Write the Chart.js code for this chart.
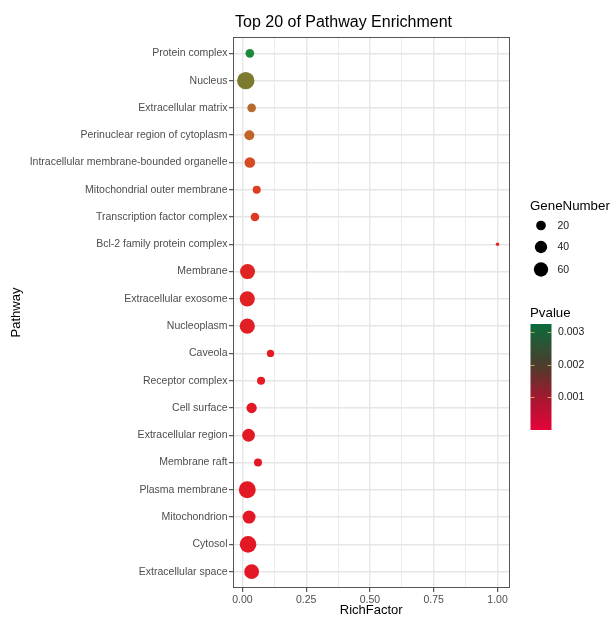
<!DOCTYPE html>
<html>
<head>
<meta charset="utf-8">
<script src="https://cdn.jsdelivr.net/npm/chart.js@4.4.1/dist/chart.umd.min.js"></script>
<style>
  html, body { margin: 0; padding: 0; background: #ffffff; }
  #wrap { width: 611px; height: 619px; position: relative; }
</style>
</head>
<body>
<div id="wrap"><canvas id="c" width="611" height="619"></canvas></div>
<script>
// Enriched cellular-component terms, listed top to bottom
const pathways = [
  'Protein complex',
  'Nucleus',
  'Extracellular matrix',
  'Perinuclear region of cytoplasm',
  'Intracellular membrane-bounded organelle',
  'Mitochondrial outer membrane',
  'Transcription factor complex',
  'Bcl-2 family protein complex',
  'Membrane',
  'Extracellular exosome',
  'Nucleoplasm',
  'Caveola',
  'Receptor complex',
  'Cell surface',
  'Extracellular region',
  'Membrane raft',
  'Plasma membrane',
  'Mitochondrion',
  'Cytosol',
  'Extracellular space'
];
const richFactor = [0.029, 0.013, 0.036, 0.027, 0.029, 0.056, 0.049, 1.0, 0.020, 0.019,
                    0.019, 0.110, 0.073, 0.036, 0.024, 0.061, 0.019, 0.026, 0.022, 0.036];
const geneNumber = [14, 98, 14, 22, 26, 11, 14, 1, 67, 69,
                    69, 8, 11, 24, 44, 11, 92, 46, 87, 65];
const pValue = [0.00324, 0.0022, 0.0015, 0.0013, 0.0008, 0.0006, 0.0005, 0.0003, 0.00018, 0.00012,
                0.00009, 0.00006, 0.00004, 0.00002, 0.00001, 0.000005, 0.000002, 0.0000008, 0.0000002, 0.00000001];

const xTicks = [0, 0.25, 0.5, 0.75, 1.0];
const sizeBreaks = [20, 40, 60];
const pBreaks = [0.001, 0.002, 0.003];

const FONT = "'Liberation Sans', Arial, Helvetica, sans-serif";

// point radius grows with the square root of the gene count
function radiusOf(n) { return 1.8 + 0.7 * Math.sqrt(Math.max(n - 1, 0)); }

// colour ramp for the points (p value -> colour)
const pointStops = [
  [0.0,     [226, 24, 36]],
  [0.0006,  [220, 62, 32]],
  [0.0014,  [190, 104, 42]],
  [0.0022,  [124, 122, 46]],
  [0.00324, [28, 138, 60]]
];
function lerpStops(stops, v) {
  if (v <= stops[0][0]) return stops[0][1];
  for (let i = 1; i < stops.length; i++) {
    if (v <= stops[i][0]) {
      const a = stops[i - 1], b = stops[i];
      const t = (v - a[0]) / (b[0] - a[0]);
      return a[1].map((c, k) => Math.round(c + (b[1][k] - c) * t));
    }
  }
  return stops[stops.length - 1][1];
}
function colourOf(p) {
  const c = lerpStops(pointStops, p);
  return `rgb(${c[0]},${c[1]},${c[2]})`;
}

// colour bar shading, bottom (low p) to top (high p)
const barStops = [
  [0.0, '#e6033a'],
  [0.3, '#a5182f'],
  [0.6, '#4f3b2c'],
  [1.0, '#0a6b3c']
];

const isMajor = v => xTicks.some(t => Math.abs(t - v) < 1e-9);

const decorations = {
  id: 'decorations',
  afterDraw(chart) {
    const ctx = chart.ctx;
    const a = chart.chartArea;
    ctx.save();

    // panel border
    ctx.strokeStyle = '#555555';
    ctx.lineWidth = 1;
    ctx.strokeRect(Math.round(a.left) + 0.5, Math.round(a.top) + 0.5,
                   Math.round(a.right - a.left) - 1, Math.round(a.bottom - a.top) - 1);

    // title
    ctx.fillStyle = '#000000';
    ctx.font = `16px ${FONT}`;
    ctx.textAlign = 'left';
    ctx.textBaseline = 'alphabetic';
    ctx.fillText('Top 20 of Pathway Enrichment', 235, 27);

    // size legend
    ctx.font = `13.3px ${FONT}`;
    ctx.fillText('GeneNumber', 530, 209.5);
    const keyY = [225.5, 247, 269.5];
    sizeBreaks.forEach((n, i) => {
      ctx.beginPath();
      ctx.fillStyle = '#000000';
      ctx.arc(541, keyY[i], radiusOf(n), 0, Math.PI * 2);
      ctx.fill();
      ctx.font = `10.5px ${FONT}`;
      ctx.fillStyle = '#1a1a1a';
      ctx.textBaseline = 'middle';
      ctx.fillText(String(n), 557.5, keyY[i] + 0.5);
      ctx.textBaseline = 'alphabetic';
    });

    // colour legend
    ctx.fillStyle = '#000000';
    ctx.font = `13.3px ${FONT}`;
    ctx.fillText('Pvalue', 530, 316.5);
    const barL = 530.5, barW = 21, barT = 324, barB = 430;
    const grad = ctx.createLinearGradient(0, barB, 0, barT);
    barStops.forEach(s => grad.addColorStop(s[0], s[1]));
    ctx.fillStyle = grad;
    ctx.fillRect(barL, barT, barW, barB - barT);
    const pMin = Math.min(...pValue), pMax = Math.max(...pValue);
    const yOf = p => barB - (p - pMin) / (pMax - pMin) * (barB - barT);
    pBreaks.forEach(p => {
      const y = Math.round(yOf(p)) + 0.5;
      ctx.strokeStyle = 'rgba(235,200,110,0.75)';
      ctx.lineWidth = 1;
      ctx.beginPath();
      ctx.moveTo(barL, y); ctx.lineTo(barL + 4, y);
      ctx.moveTo(barL + barW - 4, y); ctx.lineTo(barL + barW, y);
      ctx.stroke();
      ctx.fillStyle = '#1a1a1a';
      ctx.font = `10.5px ${FONT}`;
      ctx.textBaseline = 'middle';
      ctx.fillText(p.toFixed(3), 558, y);
    });
    ctx.restore();
  }
};

new Chart(document.getElementById('c'), {
  type: 'scatter',
  data: {
    datasets: [{
      data: pathways.map((name, i) => ({ x: richFactor[i], y: i })),
      pointRadius: ctx => radiusOf(geneNumber[ctx.dataIndex]),
      pointHoverRadius: ctx => radiusOf(geneNumber[ctx.dataIndex]),
      backgroundColor: ctx => colourOf(pValue[ctx.dataIndex]),
      borderWidth: 0,
      pointBorderWidth: 0
    }]
  },
  options: {
    responsive: false,
    devicePixelRatio: 1,
    animation: false,
    events: [],
    layout: { padding: { top: 37, right: 101.5, bottom: 0, left: 0 } },
    plugins: { legend: { display: false }, tooltip: { enabled: false }, title: { display: false } },
    scales: {
      x: {
        type: 'linear',
        min: -0.037,
        max: 1.047,
        afterBuildTicks: axis => {
          const t = [];
          for (let v = 0; v <= 1.0001; v += 0.125) t.push({ value: Math.round(v * 1000) / 1000 });
          axis.ticks = t;
        },
        afterFit: axis => { axis.height = 31; },
        grid: {
          color: ctx => isMajor(ctx.tick.value) ? '#e6e6e6' : '#ececec',
          lineWidth: ctx => isMajor(ctx.tick.value) ? 1.4 : 1,
          drawTicks: true,
          tickLength: 4,
          tickWidth: 1,
          tickColor: ctx => isMajor(ctx.tick.value) ? '#333333' : 'rgba(0,0,0,0)'
        },
        border: { display: false },
        ticks: {
          autoSkip: false,
          maxRotation: 0,
          padding: 2,
          color: '#4d4d4d',
          font: { family: FONT, size: 10.5 },
          callback: v => isMajor(v) ? Number(v).toFixed(2) : ''
        },
        title: {
          display: true,
          text: 'RichFactor',
          color: '#000000',
          font: { family: FONT, size: 13 },
          padding: { top: 0, bottom: 0.7 }
        }
      },
      y: {
        type: 'linear',
        reverse: true,
        min: -0.6,
        max: pathways.length - 1 + 0.6,
        afterBuildTicks: axis => { axis.ticks = pathways.map((_, i) => ({ value: i })); },
        afterFit: axis => { axis.width = 233; },
        grid: {
          color: '#e6e6e6',
          lineWidth: 1.4,
          drawTicks: true,
          tickLength: 4,
          tickWidth: 1,
          tickColor: '#333333'
        },
        border: { display: false },
        ticks: {
          autoSkip: false,
          padding: 1.5,
          color: '#4d4d4d',
          font: { family: FONT, size: 10.5 },
          callback: v => pathways[v] ?? ''
        },
        title: {
          display: true,
          text: 'Pathway',
          color: '#000000',
          font: { family: FONT, size: 13 },
          padding: { top: 8.7, bottom: 0 }
        }
      }
    }
  },
  plugins: [decorations]
});
</script>
</body>
</html>
